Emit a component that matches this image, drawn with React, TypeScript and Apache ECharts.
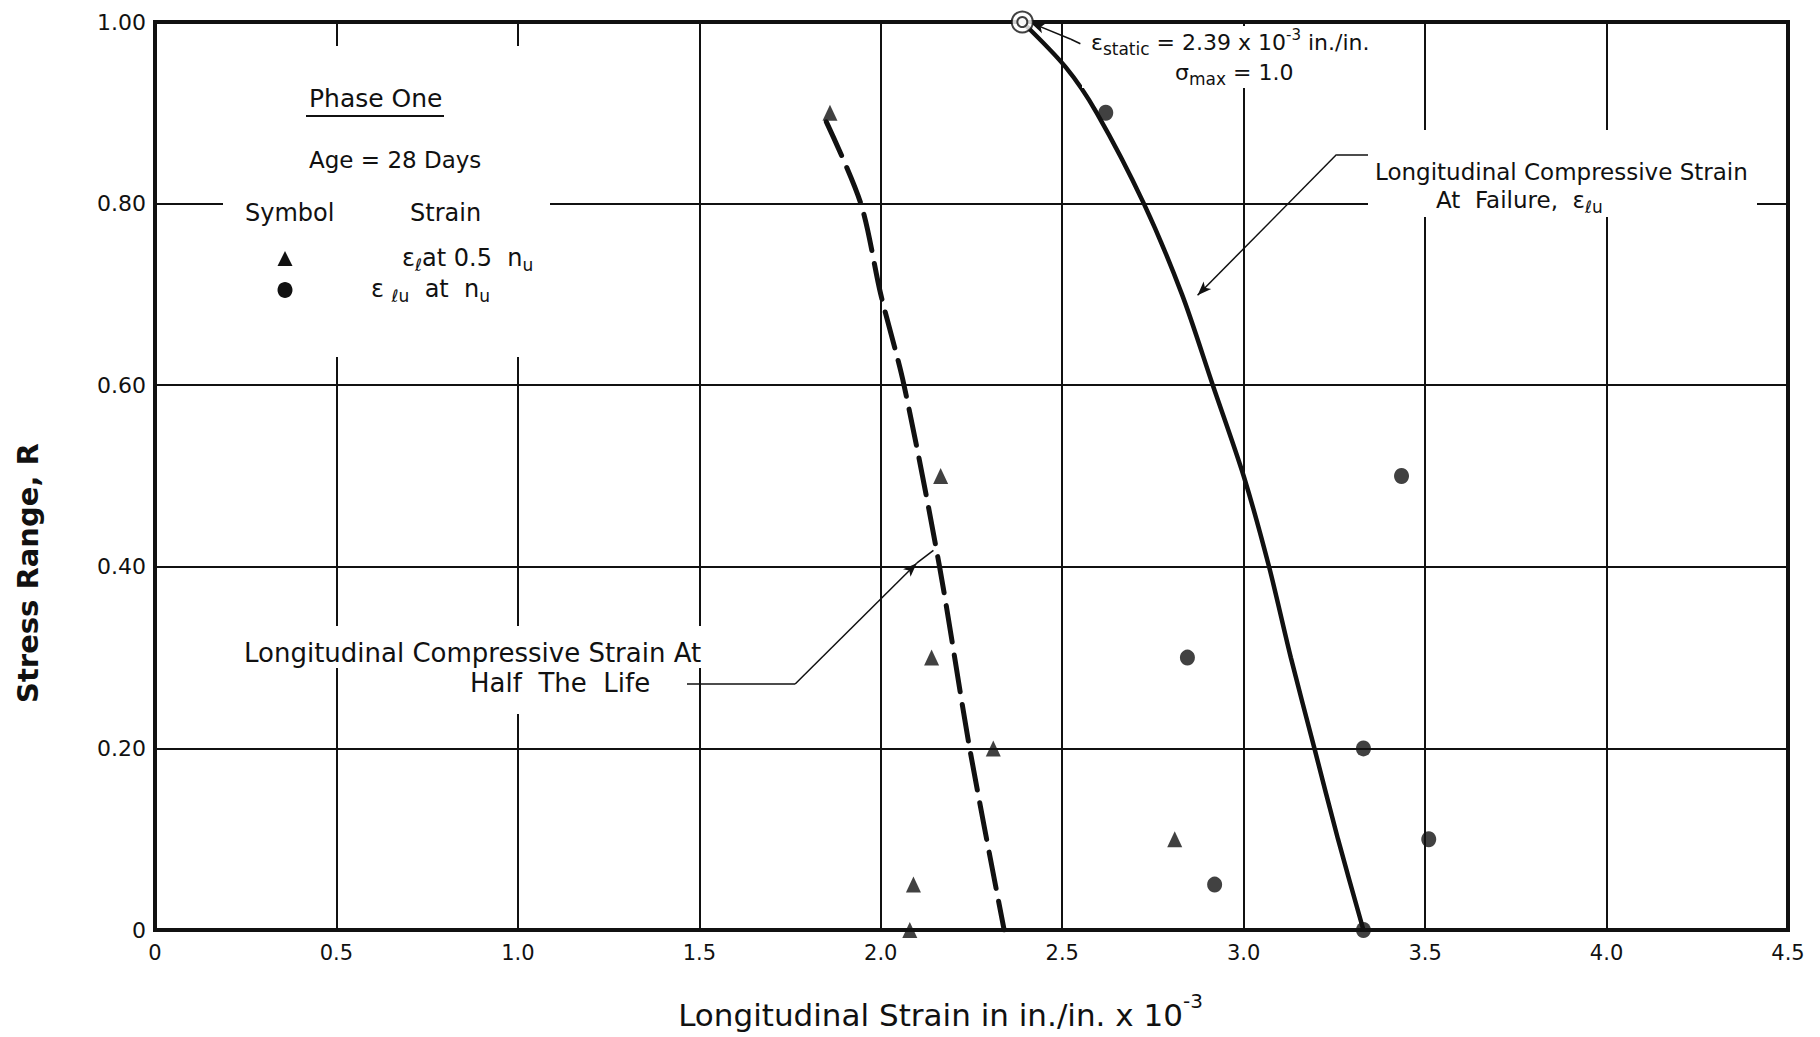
import React, { useEffect, useRef } from 'react';
import * as echarts from 'echarts';

const FONT = "'DejaVu Sans', sans-serif";
const INK = '#111';

// axis ranges
const xMin = 0;
const xMax = 4.5;
const xStep = 0.5;
const yMin = 0;
const yMax = 1.0;
const yStep = 0.2;

// epsilon_l at 0.5 n_u (triangles)
const halfLifeStrain = [1.86, 2.165, 2.14, 2.31, 2.81, 2.09, 2.08];
const halfLifeStress = [0.9, 0.5, 0.3, 0.2, 0.1, 0.05, 0.0];

// epsilon_lu at n_u (filled circles)
const failureStrain = [2.62, 3.435, 2.845, 3.33, 3.51, 2.92, 3.33];
const failureStress = [0.9, 0.5, 0.3, 0.2, 0.1, 0.05, 0.0];

// static strain (open double circle)
const staticStrain = [2.39];
const staticStress = [1.0];

// solid curve: longitudinal compressive strain at failure
const failureCurveStrain = [2.39, 2.51, 2.595, 2.725, 2.83, 2.915, 3.0, 3.07, 3.13, 3.195, 3.26, 3.33];
const failureCurveStress = [1.0, 0.95, 0.9, 0.8, 0.7, 0.6, 0.5, 0.4, 0.3, 0.2, 0.1, 0.0];

// dashed curve: longitudinal compressive strain at half the life
const halfLifeCurveStrain = [1.85, 1.945, 2.0, 2.064, 2.162, 2.245, 2.34];
const halfLifeCurveStress = [0.89, 0.8, 0.7, 0.6, 0.4, 0.2, 0.0];

// leader lines (data units)
const staticLeaderStrain = [2.55, 2.524, 2.414];
const staticLeaderStress = [0.976, 0.981, 0.999];
const failureLeaderStrain = [3.35, 3.256, 2.873];
const failureLeaderStress = [0.854, 0.854, 0.699];
const halfLifeLeaderStrain = [1.466, 1.764, 2.099, 2.145];
const halfLifeLeaderStress = [0.271, 0.271, 0.404, 0.418];

const zip = (xs: number[], ys: number[]) => xs.map((x, i) => [x, ys[i]]);

function leader(xs: number[], ys: number[], arrowAt: number) {
  const segs: any[] = [];
  for (let i = 0; i < xs.length - 1; i++) {
    segs.push([
      { coord: [xs[i], ys[i]], symbol: 'none' },
      { coord: [xs[i + 1], ys[i + 1]], symbol: i + 1 === arrowAt ? 'arrow' : 'none' },
    ]);
  }
  return segs;
}

const txt = (
  x: number,
  y: number,
  text: string,
  fontSize: number,
  rich?: any,
  extra?: any
) => ({
  type: 'text',
  x,
  y,
  z: 60,
  silent: true,
  style: {
    text,
    fontSize,
    fontFamily: FONT,
    fill: INK,
    align: 'left',
    verticalAlign: 'middle',
    rich,
    ...(extra || {}),
  },
});

const richSet = (main: number, sub: number, lh: number) => ({
  m: { fontSize: main, fontFamily: FONT, fill: INK, lineHeight: lh },
  sub: { fontSize: sub, fontFamily: FONT, fill: INK, lineHeight: sub + 2, verticalAlign: 'bottom' },
  sup: { fontSize: sub - 2, fontFamily: FONT, fill: INK, lineHeight: sub, verticalAlign: 'top' },
});

export default function App() {
  const ref = useRef<HTMLDivElement>(null);

  useEffect(() => {
    const chart = echarts.init(ref.current!, null, { renderer: 'svg' });

    const option: any = {
      animation: false,
      backgroundColor: '#fff',
      grid: {
        left: 155,
        right: 32,
        top: 22,
        bottom: 107,
        show: true,
        borderColor: INK,
        borderWidth: 4,
        backgroundColor: 'transparent',
      },
      xAxis: {
        type: 'value',
        min: xMin,
        max: xMax,
        interval: xStep,
        axisLine: { show: false },
        axisTick: { show: false },
        splitLine: { show: true, lineStyle: { color: INK, width: 2 } },
        axisLabel: {
          formatter: (v: number) => (v === 0 ? '0' : v.toFixed(1)),
          fontSize: 21,
          fontFamily: FONT,
          color: INK,
          margin: 12,
        },
        name: '{m|Longitudinal Strain in in./in. x 10}{sup|-3}',
        nameLocation: 'middle',
        nameGap: 61,
        nameTextStyle: {
          padding: [0, 62, 0, 0],
          rich: {
            m: { fontSize: 31, fontFamily: FONT, color: INK, lineHeight: 48 },
            sup: { fontSize: 20, fontFamily: FONT, color: INK, lineHeight: 22, verticalAlign: 'top' },
          },
        },
      },
      yAxis: {
        type: 'value',
        min: yMin,
        max: yMax,
        interval: yStep,
        axisLine: { show: false },
        axisTick: { show: false },
        splitLine: { show: true, lineStyle: { color: INK, width: 2 } },
        axisLabel: {
          formatter: (v: number) => (v === 0 ? '0' : v.toFixed(2)),
          fontSize: 22,
          fontFamily: FONT,
          color: INK,
          margin: 9,
        },
      },
      series: [
        {
          name: 'Longitudinal Compressive Strain At Failure',
          type: 'line',
          data: zip(failureCurveStrain, failureCurveStress),
          smooth: 0.3,
          showSymbol: false,
          symbol: 'none',
          z: 3,
          lineStyle: { color: INK, width: 4.5 },
          markLine: {
            silent: true,
            symbol: ['none', 'none'],
            symbolSize: [8, 14],
            label: { show: false },
            emphasis: { disabled: true },
            lineStyle: { color: INK, width: 1.5, type: 'solid' },
            data: [
              ...leader(staticLeaderStrain, staticLeaderStress, 2),
              ...leader(failureLeaderStrain, failureLeaderStress, 2),
              ...leader(halfLifeLeaderStrain, halfLifeLeaderStress, 2),
            ],
          },
        },
        {
          name: 'Longitudinal Compressive Strain At Half The Life',
          type: 'line',
          data: zip(halfLifeCurveStrain, halfLifeCurveStress),
          smooth: 0.3,
          showSymbol: false,
          symbol: 'none',
          z: 3,
          lineStyle: { color: INK, width: 5, type: [37, 13], cap: 'round' },
        },
        {
          name: 'ε_l at 0.5 n_u',
          type: 'scatter',
          data: zip(halfLifeStrain, halfLifeStress),
          symbol: 'triangle',
          symbolSize: [15, 16],
          z: 4,
          itemStyle: { color: INK },
        },
        {
          name: 'ε_lu at n_u',
          type: 'scatter',
          data: zip(failureStrain, failureStress),
          symbol: 'circle',
          symbolSize: [15, 16],
          z: 4,
          itemStyle: { color: INK },
        },
        {
          name: 'static outer',
          type: 'scatter',
          data: zip(staticStrain, staticStress),
          symbol: 'emptyCircle',
          symbolSize: 21,
          z: 5,
          itemStyle: { color: INK, borderWidth: 2 },
        },
        {
          name: 'static inner',
          type: 'scatter',
          data: zip(staticStrain, staticStress),
          symbol: 'emptyCircle',
          symbolSize: 10,
          z: 6,
          itemStyle: { color: INK, borderWidth: 2.5 },
        },
      ],
      graphic: [
        // white masks interrupting the grid behind annotations
        { type: 'rect', z: 50, silent: true, shape: { x: 223, y: 46, width: 327, height: 311 }, style: { fill: '#fff' } },
        { type: 'rect', z: 50, silent: true, shape: { x: 1082, y: 26, width: 330, height: 62 }, style: { fill: '#fff' } },
        { type: 'rect', z: 50, silent: true, shape: { x: 1368, y: 130, width: 389, height: 87 }, style: { fill: '#fff' } },
        { type: 'rect', z: 50, silent: true, shape: { x: 238, y: 626, width: 474, height: 42 }, style: { fill: '#fff' } },
        { type: 'rect', z: 50, silent: true, shape: { x: 462, y: 668, width: 206, height: 46 }, style: { fill: '#fff' } },

        // legend block
        txt(309, 98, 'Phase One', 25),
        { type: 'line', z: 60, silent: true, shape: { x1: 306, y1: 116, x2: 444, y2: 116 }, style: { stroke: INK, lineWidth: 2 } },
        txt(309, 160, 'Age = 28 Days', 23),
        txt(245, 213, 'Symbol', 24),
        txt(410, 213, 'Strain', 24),
        { type: 'polygon', z: 60, silent: true, shape: { points: [[285, 251], [277.5, 266], [292.5, 266]] }, style: { fill: INK } },
        { type: 'ellipse', z: 60, silent: true, shape: { cx: 285, cy: 290, rx: 7.5, ry: 8 }, style: { fill: INK } },
        txt(402, 258, '{m|ε}{sub|ℓ}{m|at 0.5  n}{sub|u}', 24, richSet(24, 17, 30)),
        txt(371, 289, '{m|ε }{sub|ℓu}{m|  at  n}{sub|u}', 24, richSet(24, 17, 30)),

        // static annotation
        txt(1091, 42, '{m|ε}{sub|static}{m| = 2.39 x 10}{sup|-3}{m| in./in.}', 22, richSet(22, 17, 30)),
        txt(1175, 72, '{m|σ}{sub|max}{m| = 1.0}', 22, richSet(22, 17, 30)),

        // failure annotation
        txt(1375, 172, 'Longitudinal Compressive Strain', 23),
        txt(1436, 200, '{m|At  Failure,  ε}{sub|ℓu}', 23, richSet(23, 17, 30)),

        // half life annotation
        txt(244, 653, 'Longitudinal Compressive Strain At', 26),
        txt(470, 683, 'Half  The  Life', 26),

        // y axis title
        {
          type: 'text',
          x: 28,
          y: 573,
          rotation: Math.PI / 2,
          z: 60,
          silent: true,
          style: {
            text: 'Stress Range, R',
            fontSize: 29,
            fontWeight: 'bold',
            fontFamily: FONT,
            fill: INK,
            align: 'center',
            verticalAlign: 'middle',
          },
        },
      ],
    };

    chart.setOption(option);
    return () => chart.dispose();
  }, []);

  return (
    <div
      ref={ref}
      style={{ position: 'fixed', left: 0, top: 0, width: 1820, height: 1037, background: '#fff' }}
    />
  );
}
